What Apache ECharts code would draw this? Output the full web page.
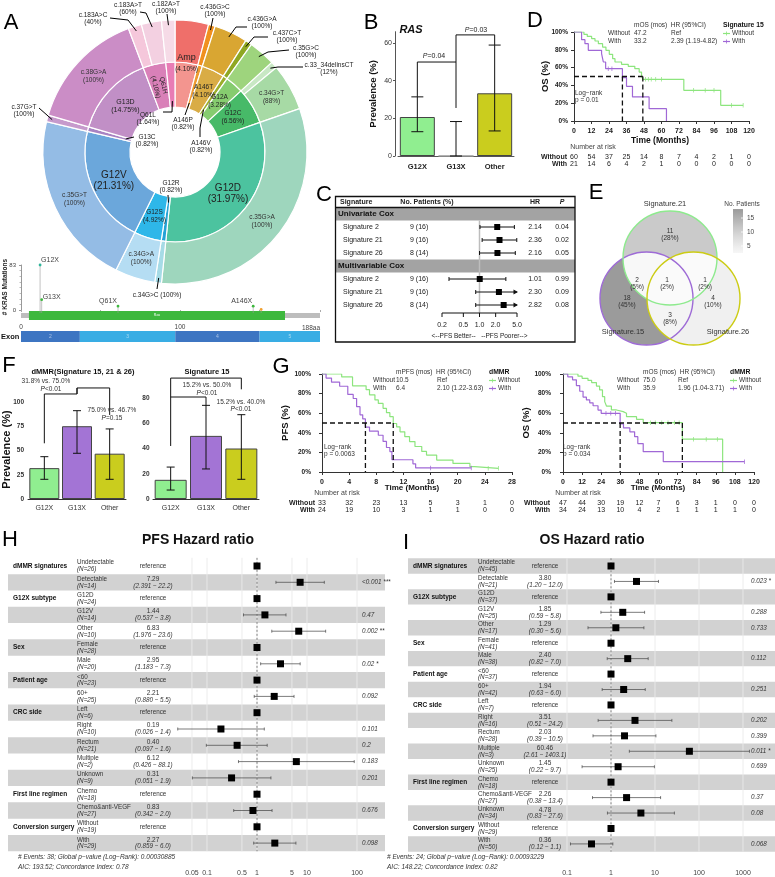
<!DOCTYPE html>
<html><head><meta charset="utf-8"><title>KRAS figure</title>
<script src="https://cdn.jsdelivr.net/npm/echarts@6/dist/echarts.min.js"></script>
<style>html,body{margin:0;padding:0;background:#fff;}#c{width:775px;height:877px;}</style>
</head><body><div id="c"></div>
<script>
// ================= DATA =================
// A: sunburst (inner ring = protein change, outer ring = nucleotide change)
const innerNames=['Amp','A146P','A146T','A146V','G12A','G12C','G12D','G12R','G12S','G12V','G13C','G13D','Q61H','Q61L'];
const innerCounts=[5,1,5,1,4,8,39,1,6,26,1,18,5,2];
const innerPct=['4.10%','0.82%','4.10%','0.82%','3.28%','6.56%','31.97%','0.82%','4.92%','21.31%','0.82%','14.75%','4.10%','1.64%'];
const outerNames=['Amp','c.436G>C','c.436G>A','c.437C>T','c.35G>C','c.33_34delinsCT','c.34G>T','c.35G>A','c.34G>C','c.34G>A','c.35G>T','c.37G>T','c.38G>A','c.183A>C','c.183A>T','c.182A>T'];
const outerParent=[0,1,2,3,4,5,5,6,7,8,9,10,11,12,12,13];
const outerCounts=[5,1,5,1,4,1,7,39,1,6,26,1,18,2,3,2];
const outerPct=['','100%','100%','100%','100%','12%','88%','100%','100%','100%','100%','100%','100%','40%','60%','100%'];
// A: lollipop
const lolliNames=['G12X','G13X','Q61X','A146X',''];
const lolliPos=[12,13,61,146,151];
const lolliCounts=[83,19,7,7,1];
const proteinLen=188;
const rasDomain=[5,166];
const exonNames=['2','3','4','5'];
const exonStart=[0,37,97,150];
const exonEnd=[37,97,150,188];
// B
const bCats=['G12X','G13X','Other'];
const bVal=[20.7,0,33.3];
const bLo=[12.9,0,13.3];
const bHi=[31.4,18.3,58.9];
// C
const cSections=['Univariate Cox','Multivariable Cox'];
const cSig=['Signature 2','Signature 21','Signature 26'];
const cN=[['9 (16)','9 (16)','8 (14)'],['9 (16)','9 (16)','8 (14)']];
const cHR=[[2.14,2.36,2.16],[1.01,2.30,2.82]];
const cLo=[[1.02,1.12,1.00],[0.27,0.85,0.85]];
const cHi=[[4.47,4.95,4.65],[3.10,6.20,9.30]];
const cP=[['0.04','0.02','0.05'],['0.99','0.09','0.08']];
const cTicks=[0.2,0.5,1.0,2.0,5.0];
// D: OS by Signature 15
const dWithout=[[0,100],[6.8,97.4],[9.1,95],[12.1,92.5],[14.4,89.9],[16.7,86.9],[19.6,83.1],[21.9,79.4],[24.2,74.9],[26.5,70],[28.1,66.3],[32.6,63.7],[37.2,61.4],[41.7,58.8],[44.7,55],[46.3,51.3],[47.2,46.8],[75.3,34.5],[100.6,17.6],[116,17.6]];
const dWith=[[0,100],[5.2,91.4],[7.5,86.9],[9.8,79.4],[18.9,75.6],[20.1,66.3],[21.7,58.8],[33.2,48.7],[36,39],[40.1,27],[51.5,13.9],[63.4,0]];
const dCensWithout=[49,51,53,56,60,82,90,96,108,116];
const dCensWith=[23.5,26];
const dMedian=[47.2,33.2];
const dHR=['Ref','2.39 (1.19-4.82)'];
const dRiskT=[0,12,24,36,48,60,72,84,96,108,120];
const dRiskWithout=[60,54,37,25,14,8,7,4,2,1,0];
const dRiskWith=[21,14,6,4,2,1,0,0,0,0,0];
// E: Venn
const vennCounts={'15':18,'21':11,'26':4,'15&21':2,'21&26':1,'15&26':3,'15&21&26':1};
const vennPct={'15':'45%','21':'28%','26':'10%','15&21':'5%','21&26':'2%','15&26':'8%','15&21&26':'2%'};
// F
const fCats=['G12X','G13X','Other'];
const fDmmrVal=[31.8,75.0,46.7];
const fDmmrLo=[20.3,47.1,20.3];
const fDmmrHi=[43.6,91.0,72.2];
const fSig15Val=[15.2,50.0,40.0];
const fSig15Lo=[7.1,23.8,15.6];
const fSig15Hi=[25.3,74.2,66.8];
// G: PFS and OS by dMMR
const gPfsWithout=[[0,100],[2.9,97],[4.5,87.9],[6.5,84],[7,78.8],[7.8,73.5],[8.3,70],[9,65],[9.5,60.5],[10,56.5],[10.5,49.5],[11,46],[11.5,41],[12.2,36],[12.9,31],[13.7,26],[14.7,21],[15.4,17.3],[16.9,12.2],[19.3,8.8],[21.8,5.4],[22.5,3.7],[26,3.7]];
const gPfsWith=[[0,100],[0.6,95.8],[1.4,91.7],[2.6,87.5],[3.8,79.2],[4.6,75],[5.1,66.7],[5.6,58.3],[6,54.2],[6.4,45.8],[7,41.7],[8.3,37.5],[9,31.2],[9.5,25],[10,20.8],[10.3,12.5],[13.4,8.3],[13.8,4.2],[22,4.2]];
const gPfsCensWithout=[24.5,26];
const gPfsCensWith=[16,22];
const gPfsMedian=[10.5,6.4];
const gPfsHR=['Ref','2.10 (1.22-3.63)'];
const gPfsRiskT=[0,4,8,12,16,20,24,28];
const gPfsRiskWithout=[33,32,23,13,5,3,1,0];
const gPfsRiskWith=[24,19,10,3,1,1,0,0];
const gOsWithout=[[0,100],[9.4,97.8],[12,95.6],[15.7,93.4],[18,91.2],[21,87.7],[23,83.7],[24.8,76.9],[26.2,71.8],[27.3,67.3],[30.4,63.3],[33.6,61.6],[37.8,59.9],[39.9,56.5],[46.2,53.7],[50.4,50.3],[75,33.5],[100.3,0]];
const gOsWith=[[0,100],[3,97.1],[6,94.1],[8.4,88.2],[10.5,82.4],[12.6,76.5],[14.7,73.5],[16.8,70.6],[18.9,67.6],[22,63.2],[24,59.9],[35.9,49],[38,45],[42,41],[45,36],[47,29],[50.4,20.7],[63,10.5],[114,10.5]];
const gOsCensWithout=[55,58,62,66,70,73,82,90,97];
const gOsCensWith=[27,30,33,114];
const gOsMedian=[75.0,35.9];
const gOsHR=['Ref','1.96 (1.04-3.71)'];
const gOsRiskT=[0,12,24,36,48,60,72,84,96,108,120];
const gOsRiskWithout=[47,44,30,19,12,7,6,3,1,0,0];
const gOsRiskWith=[34,24,13,10,4,2,1,1,1,1,0];
// H: PFS hazard ratios
const hVar=['dMMR signatures','','G12X subtype','','','Sex','','Patient age','','CRC side','','','','','First line regimen','','Conversion surgery',''];
const hLevel=['Undetectable','Detectable','G12D','G12V','Other','Female','Male','<60','60+','Left','Right','Rectum','Multiple','Unknown','Chemo','Chemo&anti-VEGF','Without','With'];
const hN=[26,14,24,14,10,28,20,23,25,6,10,21,2,9,18,27,19,29];
const hHR=[1,7.29,1,1.44,6.83,1,2.95,1,2.21,1,0.19,0.40,6.12,0.31,1,0.83,1,2.27];
const hLo=[null,2.391,null,0.537,1.976,null,1.183,null,0.880,null,0.026,0.097,0.426,0.051,null,0.342,null,0.859];
const hHi=[null,22.2,null,3.8,23.6,null,7.3,null,5.5,null,1.4,1.6,88.1,1.9,null,2.0,null,6.0];
const hP=['','<0.001 ***','','0.47','0.002 **','','0.02 *','','0.092','','0.101','0.2','0.183','0.201','','0.676','','0.098'];
const hTicks=[0.05,0.1,0.5,1,5,10,100];
// I: OS hazard ratios
const iVar=['dMMR signatures','','G12X subtype','','','Sex','','Patient age','','CRC side','','','','','First line regimen','','','Conversion surgery',''];
const iLevel=['Undetectable','Detectable','G12D','G12V','Other','Female','Male','<60','60+','Left','Right','Rectum','Multiple','Unknown','Chemo','Chemo&anti-VEGF','Unknown','Without','With'];
const iN=[45,21,37,25,17,41,38,37,42,7,16,28,3,25,18,27,34,29,50];
const iHR=[1,3.80,1,1.85,1.29,1,2.40,1,1.94,1,3.51,2.03,60.46,1.45,1,2.26,4.78,1,0.36];
const iLo=[null,1.20,null,0.59,0.30,null,0.82,null,0.63,null,0.51,0.39,2.61,0.22,null,0.38,0.83,null,0.12];
const iHi=[null,12.0,null,5.8,5.6,null,7.0,null,6.0,null,24.2,10.5,1403.1,9.7,null,13.4,27.6,null,1.1];
const iP=['','0.023 *','','0.288','0.733','','0.112','','0.251','','0.202','0.399','0.011 *','0.699','','0.37','0.08','','0.068'];
const iTicks=[0.1,1,10,100,1000];

// ================= STYLE =================
const FONT='"Liberation Sans", Arial, Helvetica, sans-serif';
const innerColors=['#F3958F','#EE9A2E','#D9AC45','#9CAE2C','#86CC6F','#47BA68','#4CC39F','#25A3D6','#2EB7E9','#6BA7DB','#A883C2','#C18FC6','#D980B8','#E87CB5'];
const outerColors=['#EF6F6A','#F0901F','#D9A632','#8FA722','#9ED47D','#C8E8C4','#A7DAA5','#9ED6BD','#A6DBE6','#B5DDF3','#94BCE5','#C69ACC','#CB8DC6','#F5C7DB','#F3D0E1','#F6DBE7'];
const COL_G='#8DE57E', COL_P='#A068D6';
const barColors=['#90EE90','#A374D5','#CACD1E'];

// ================= HELPERS =================
const chart=echarts.init(document.getElementById('c'));
const grids=[],xAxes=[],yAxes=[],series=[],G=[];
function st(o){const a=o.a||'center',v=o.v||'middle';const s={text:o.t,fill:o.c||'#222',fontSize:o.s||7,fontWeight:o.b?'bold':'normal',fontStyle:o.i?'italic':'normal',fontFamily:FONT,align:a,verticalAlign:v,textAlign:a,textVerticalAlign:v};if(o.rich)s.rich=o.rich;return s;}
function te(x,y,t,o){o=Object.assign({},o||{});o.t=t;return {type:'text',x:x,y:y,rotation:o.rot||0,silent:true,style:st(o)};}
function T(x,y,t,o){const e=te(x,y,t,o);e.z=50;G.push(e);}
function L(pts,o){o=o||{};G.push({type:'polyline',z:o.z||40,silent:true,shape:{points:pts},style:{stroke:o.c||'#000',lineWidth:o.w||1,fill:null,lineDash:o.d||null}});}
function addGrid(box,xa,ya){grids.push(Object.assign({containLabel:false,outerBoundsMode:'none',show:false},box));const gi=grids.length-1;xAxes.push(Object.assign({gridIndex:gi},xa));yAxes.push(Object.assign({gridIndex:gi},ya));return gi;}
function pRich(s){return {i:{fontStyle:'italic',fontSize:s,fontFamily:FONT,fill:'#222'}};}
const axLine={lineStyle:{color:'#333',width:1}};
function survAt(d,t){let s=d[0][1];for(const p of d){if(p[0]<=t)s=p[1];}return s;}

// ================= PANEL LETTERS =================
[['A',11,23],['B',371,23],['C',324,195],['D',535,21],['E',596,193],['F',9,366],['G',281,367],['H',10,540],['I',406,543]].forEach(l=>T(l[1],l[2],l[0],{s:22,c:'#000'}));

// ================= A: SUNBURST =================
const SB={cx:175,cy:152,r0:45,r1:90,r2:132};
const TOT=innerCounts.reduce((a,b)=>a+b,0);
function midAng(cnt,i){let s=0;for(let k=0;k<i;k++)s+=cnt[k];return (s+cnt[i]/2)/TOT*2*Math.PI;}
function polar(a,r){return [SB.cx+r*Math.sin(a),SB.cy-r*Math.cos(a)];}
const innerLabelSize={G12D:10,G12V:10,G13D:7,G12S:6.5,G12C:6.5,G12A:6.5,A146T:6.5,Q61H:6.5};
const outerLabelIn={'c.35G>A':1,'c.35G>T':1,'c.38G>A':1,'c.34G>A':1,'c.34G>T':1};
const sbData=innerNames.map((n,i)=>({name:n,value:innerCounts[i],itemStyle:{color:innerColors[i]},
  label:innerLabelSize[n]?{show:true,formatter:n+'\n('+innerPct[i]+')',fontSize:innerLabelSize[n],lineHeight:innerLabelSize[n]+1.5,rotate:n==='Q61H'?'radial':0,color:'#222',fontFamily:FONT}:{show:false},
  children:outerNames.map((m,j)=>({m:m,j:j})).filter(o=>outerParent[o.j]===i).map(o=>({name:o.m,value:outerCounts[o.j],itemStyle:{color:outerColors[o.j]},
    label:outerLabelIn[o.m]?{show:true,formatter:o.m+'\n('+outerPct[o.j]+')',fontSize:6.5,lineHeight:8,rotate:0,color:'#333',fontFamily:FONT}:{show:false}}))}));
series.push({type:'sunburst',center:[SB.cx,SB.cy],radius:[SB.r0,SB.r2],sort:null,startAngle:90,nodeClick:false,data:sbData,
  itemStyle:{borderColor:'#fff',borderWidth:1.2},label:{show:false},emphasis:{disabled:true},
  levels:[{},{r0:SB.r0,r:SB.r1},{r0:SB.r1,r:SB.r2}]});
(function(){const p=polar(midAng(innerCounts,0),SB.r1);T(p[0],p[1]-5,'Amp',{s:9,c:'#222'});T(p[0],p[1]+6,'(4.10%)',{s:6.5});})();
const outerLeaders=[
 {i:13,t:[93,15],e:[[110,18],[128,20]]},
 {i:14,t:[128,5],e:[[140,12],[146,13]]},
 {i:15,t:[166,4],e:[[167,14]]},
 {i:1,t:[215,7],e:[[213,18]]},
 {i:2,t:[262,19],e:[[247,27],[236,27]]},
 {i:3,t:[287,33],e:[[268,37],[254,37]]},
 {i:4,t:[306,48],e:[[289,50],[268,52]]},
 {i:5,t:[329,65],e:[[303,67],[278,67]]},
 {i:11,t:[24,107],e:[[39,108]]},
 {i:8,t:[157,295],e:[[157,289]],one:true}];
outerLeaders.forEach(o=>{const anc=polar(midAng(outerCounts,o.i),SB.r2-5);L(o.e.concat([anc]),{w:1});
  if(o.one)T(o.t[0],o.t[1],outerNames[o.i]+' ('+outerPct[o.i]+')',{s:6.5});
  else{T(o.t[0],o.t[1],outerNames[o.i],{s:6.5});T(o.t[0],o.t[1]+7.5,'('+outerPct[o.i]+')',{s:6.5});}});
const innerLeaders=[
 {i:13,t:[148,115],e:[[163,112],[172,112]]},
 {i:1,t:[183,120],e:[[185,115]]},
 {i:3,t:[201,143],e:[[200,137],[200,128]]},
 {i:10,t:[147,137],e:[[134,137]]},
 {i:7,t:[171,183],e:[[168,195]]}];
innerLeaders.forEach(o=>{const anc=polar(midAng(innerCounts,o.i),SB.r0+6);L(o.e.concat([anc]),{w:1});
  T(o.t[0],o.t[1],innerNames[o.i],{s:6.5});T(o.t[0],o.t[1]+7.5,'('+innerPct[o.i]+')',{s:6.5});});

// ================= A: LOLLIPOP =================
const gA=addGrid({left:21,top:265,width:299,height:45},
 {type:'value',min:0,max:proteinLen,interval:50,offset:10,axisLine:{show:false},axisTick:{show:true,length:2,lineStyle:{color:'#aaa'}},splitLine:{show:false},
  axisLabel:{fontSize:6.5,color:'#444',margin:4,fontFamily:FONT,formatter:v=>(v===0||v===100)?String(v):''}},
 {type:'value',min:0,max:83,interval:83,offset:3,axisLine:{show:true,lineStyle:{color:'#999'}},axisTick:{show:true,length:2,lineStyle:{color:'#999'}},
  minorTick:{show:true,splitNumber:8,length:1.5,lineStyle:{color:'#bbb'}},splitLine:{show:false},axisLabel:{fontSize:6,color:'#444',margin:2,fontFamily:FONT}});
series.push({type:'custom',xAxisIndex:gA,yAxisIndex:gA,clip:false,z:2,silent:true,data:[[0,0]],
 renderItem:(p,api)=>{const y0=api.coord([0,0])[1];const X=v=>api.coord([v,0])[0];const ch=[];
  ch.push({type:'rect',shape:{x:X(0),y:y0+3,width:X(proteinLen)-X(0),height:5},style:{fill:'#BDBDBD'}});
  ch.push({type:'rect',shape:{x:X(rasDomain[0]),y:y0+1,width:X(rasDomain[1])-X(rasDomain[0]),height:9},style:{fill:'#3DB83D'}});
  ch.push(te((X(rasDomain[0])+X(rasDomain[1]))/2,y0+5.5,'Ras',{s:3.5,c:'#fff'}));
  exonNames.forEach((n,i)=>{ch.push({type:'rect',shape:{x:X(exonStart[i]),y:y0+21,width:X(exonEnd[i])-X(exonStart[i]),height:11},style:{fill:i%2?'#39ADE4':'#3D75C2'}});
    ch.push(te((X(exonStart[i])+X(exonEnd[i]))/2,y0+26.5,n,{s:5,c:'rgba(255,255,255,0.55)'}));});
  return {type:'group',children:ch};}});
const lolliSide=['right','right','left','left',null];
const lolliColors=['#2FB59A','#3DB83D','#3DB83D','#3DB83D','#F0A030'];
series.push({type:'custom',xAxisIndex:gA,yAxisIndex:gA,clip:false,z:3,silent:true,data:lolliPos.map((v,i)=>[v,lolliCounts[i]]),
 renderItem:(p,api)=>{const i=p.dataIndex;const a=api.coord([api.value(0),0]),b=api.coord([api.value(0),api.value(1)]);
  const ch=[{type:'line',shape:{x1:a[0],y1:a[1]+3,x2:b[0],y2:b[1]},style:{stroke:'#9a9a9a',lineWidth:0.6}},{type:'circle',shape:{cx:b[0],cy:b[1],r:1.4},style:{fill:lolliColors[i]}}];
  if(lolliNames[i]){const r=lolliSide[i]==='right';ch.push(te(b[0]+(r?1:-1),b[1]-(i===1?3:5),lolliNames[i],{s:7,c:'#444',a:r?'left':'right'}));}
  return {type:'group',children:ch};}});
T(320,328,'188aa',{s:6.5,a:'right',c:'#444'});
T(1,337,'Exon',{s:7.5,b:1,a:'left',c:'#111'});
T(5,287,'# KRAS Mutations',{s:6.5,b:1,rot:Math.PI/2,c:'#222'});

// ================= generic bar helpers =================
function errSeries(gi,lo,hi,cap){series.push({type:'custom',xAxisIndex:gi,yAxisIndex:gi,clip:false,z:5,silent:true,data:lo.map((v,i)=>[i,v,hi[i]]),
 renderItem:(p,api)=>{const a=api.coord([api.value(0),api.value(1)]),b=api.coord([api.value(0),api.value(2)]);const s={stroke:'#111',lineWidth:1};
  return {type:'group',children:[{type:'line',shape:{x1:a[0],y1:a[1],x2:b[0],y2:b[1]},style:s},{type:'line',shape:{x1:a[0]-cap,y1:a[1],x2:a[0]+cap,y2:a[1]},style:s},{type:'line',shape:{x1:b[0]-cap,y1:b[1],x2:b[0]+cap,y2:b[1]},style:s}]};}});}
function bracketSeries(gi,list){series.push({type:'custom',xAxisIndex:gi,yAxisIndex:gi,clip:false,z:6,silent:true,data:list.map((b,i)=>[0,i]),
 renderItem:(p,api)=>({type:'polyline',shape:{points:list[p.dataIndex].map(q=>api.coord(q))},style:{stroke:'#111',lineWidth:1,fill:null}})});}

// ================= B =================
const gB=addGrid({left:398,top:31.7,width:116,height:124.3},
 {type:'category',data:bCats,axisLine:{lineStyle:{color:'#555'}},axisTick:{show:false},axisLabel:{interval:0,fontSize:7.5,fontWeight:'bold',color:'#222',margin:7,fontFamily:FONT}},
 {type:'value',min:0,max:66,interval:20,offset:3,name:'Prevalence (%)',nameLocation:'middle',nameGap:17,nameMoveOverlap:false,nameTextStyle:{fontSize:9.5,fontWeight:'bold',color:'#111',fontFamily:FONT},
  axisLine:{show:true,lineStyle:{color:'#555'}},axisTick:{show:true,length:2,lineStyle:{color:'#555'}},splitLine:{show:false},axisLabel:{fontSize:7,color:'#333',margin:3,showMaxLabel:false,fontFamily:FONT}});
series.push({type:'bar',xAxisIndex:gB,yAxisIndex:gB,barWidth:35,silent:true,z:2,data:bVal.map((v,i)=>({value:v,itemStyle:{color:i===1?'#bbb':barColors[i===0?0:2],borderColor:i===1?'#999':'#444',borderWidth:1}}))});
errSeries(gB,bLo,bHi,6);
bracketSeries(gB,[[[0,bHi[0]],[0,49.9],[1,49.9],[1,25.5]],[[1,49.9],[1,64.3],[2,64.3],[2,bHi[2]]]]);
T(434,56,'{i|P}=0.04',{s:7,rich:pRich(7)});
T(476,30,'{i|P}=0.03',{s:7,rich:pRich(7)});
T(411,30,'RAS',{s:11,b:1,i:1,c:'#111'});

// ================= C =================
const gC=addGrid({left:442,top:207.5,width:75,height:104},{type:'value',min:Math.log10(0.2),max:Math.log10(5),show:false},{type:'value',min:-0.5,max:7.5,inverse:true,show:false});
const cRows=[];cSections.forEach((s,si)=>{cRows.push({sec:s});cSig.forEach((g,k)=>cRows.push({sig:g,n:cN[si][k],hr:cHR[si][k],lo:cLo[si][k],hi:cHi[si][k],p:cP[si][k]}));});
G.push({type:'rect',z:45,silent:true,shape:{x:335.5,y:196.5,width:239.5,height:145.5},style:{fill:null,stroke:'#111',lineWidth:1.3}});
L([[335.5,207.5],[575,207.5]],{w:1.3,c:'#111'});
T(340,202,'Signature',{s:7,b:1,a:'left'});T(427,202,'No. Patients (%)',{s:7,b:1});T(535,202,'HR',{s:7,b:1});T(562,202,'P',{s:7,b:1,i:1});
series.push({type:'custom',xAxisIndex:gC,yAxisIndex:gC,clip:false,z:2,silent:true,data:cRows.map((r,k)=>[0,k]),
 renderItem:(p,api)=>{const r=cRows[p.dataIndex];const y=api.coord([0,api.value(1)])[1];
  if(r.sec)return {type:'group',children:[{type:'rect',shape:{x:336,y:y-6.5,width:239,height:13},style:{fill:'#A3A3A3'}},te(338,y,r.sec,{s:8,b:1,a:'left',c:'#111'})]};
  return {type:'group',children:[te(343,y,r.sig,{s:7,a:'left'}),te(410,y,r.n,{s:7,a:'left'}),te(535,y,r.hr.toFixed(2),{s:7}),te(562,y,r.p,{s:7})]};}});
series.push({type:'custom',xAxisIndex:gC,yAxisIndex:gC,clip:false,z:3,silent:true,data:[[0,0]],
 renderItem:(p,api)=>{const a=api.coord([0,0.5]);const cs=p.coordSys;return {type:'line',shape:{x1:a[0],y1:a[1],x2:a[0],y2:cs.y+cs.height+1.5},style:{stroke:'#BDBDBD',lineWidth:1.5}};}});
series.push({type:'custom',xAxisIndex:gC,yAxisIndex:gC,clip:false,z:4,silent:true,data:cRows.map((r,k)=>[r.hr?Math.log10(r.hr):0,k]),
 renderItem:(p,api)=>{const r=cRows[p.dataIndex];if(r.sec)return null;const k=api.value(1);const xmax=Math.log10(cTicks[cTicks.length-1]);
  const c=api.coord([api.value(0),k]),a=api.coord([Math.log10(r.lo),k]),b=api.coord([Math.min(Math.log10(r.hi),xmax),k]);const s={stroke:'#111',lineWidth:1};
  const ch=[{type:'line',shape:{x1:a[0],y1:a[1],x2:b[0],y2:b[1]},style:s},{type:'line',shape:{x1:a[0],y1:a[1]-2,x2:a[0],y2:a[1]+2},style:s}];
  if(r.hi>cTicks[cTicks.length-1])ch.push({type:'polygon',shape:{points:[[b[0]+1,b[1]],[b[0]-3.5,b[1]-2.5],[b[0]-3.5,b[1]+2.5]]},style:{fill:'#111'}});
  else ch.push({type:'line',shape:{x1:b[0],y1:b[1]-2,x2:b[0],y2:b[1]+2},style:s});
  ch.push({type:'rect',shape:{x:c[0]-3,y:c[1]-3,width:6,height:6},style:{fill:'#000'}});return {type:'group',children:ch};}});
series.push({type:'custom',xAxisIndex:gC,yAxisIndex:gC,clip:false,z:4,silent:true,data:cTicks.map(t=>[Math.log10(t),0]),
 renderItem:(p,api)=>{const cs=p.coordSys;const ya=cs.y+cs.height+1.5;const x=api.coord([api.value(0),0])[0];const s={stroke:'#111',lineWidth:1};
  const ch=[{type:'line',shape:{x1:x,y1:ya,x2:x,y2:ya+4},style:s},te(x,ya+12,cTicks[p.dataIndex].toFixed(1),{s:7})];
  if(p.dataIndex===0){const x2=api.coord([Math.log10(cTicks[cTicks.length-1]),0])[0];const x1=api.coord([0,0])[0];ch.push({type:'line',shape:{x1:x,y1:ya,x2:x2,y2:ya},style:s});ch.push(te(x1,ya+23,'<--PFS Better--   --PFS Poorer-->',{s:6.5}));}
  return {type:'group',children:ch};}});

// ================= KM helper =================
function km(cfg){
 const gi=addGrid({left:cfg.left,top:cfg.top,width:cfg.width,height:cfg.height},
  {type:'value',min:0,max:cfg.xmax,interval:cfg.xint,offset:cfg.xoff,axisLine:axLine,axisTick:{length:3,lineStyle:{color:'#333'}},splitLine:{show:false},axisLabel:{fontSize:7,fontWeight:'bold',color:'#222',margin:cfg.xmargin,fontFamily:FONT}},
  {type:'value',min:0,max:100,interval:20,offset:cfg.yoff,name:cfg.yname,nameLocation:'middle',nameGap:cfg.nameGap,nameRotate:90,nameMoveOverlap:false,nameTextStyle:{fontSize:9.5,fontWeight:'bold',color:'#111',fontFamily:FONT},
   axisLine:axLine,axisTick:{length:3,lineStyle:{color:'#333'}},splitLine:{show:false},axisLabel:{formatter:'{value}%',fontSize:6.5,fontWeight:'bold',color:'#222',margin:2,fontFamily:FONT}});
 const mMax=Math.max.apply(null,cfg.medians);const dash={color:'#111',width:1.3,type:[5,3]};
 series.push({type:'line',xAxisIndex:gi,yAxisIndex:gi,data:[[0,50],[mMax,50]],symbol:'none',lineStyle:dash,z:4,silent:true});
 cfg.medians.forEach(m=>series.push({type:'line',xAxisIndex:gi,yAxisIndex:gi,data:[[m,50],[m,0]],symbol:'none',lineStyle:dash,z:4,silent:true}));
 [[cfg.without,cfg.cWithout,COL_G],[cfg.with,cfg.cWith,COL_P]].forEach(q=>{
  series.push({type:'line',xAxisIndex:gi,yAxisIndex:gi,data:q[0],step:'end',symbol:'none',lineStyle:{color:q[2],width:1.2},z:3,silent:true});
  series.push({type:'scatter',xAxisIndex:gi,yAxisIndex:gi,data:q[1].map(t=>[t,survAt(q[0],t)]),symbol:'rect',symbolSize:[0.9,4.5],itemStyle:{color:q[2]},z:3,silent:true});});
 [[cfg.riskWithout,cfg.riskDy[0]],[cfg.riskWith,cfg.riskDy[1]]].forEach(q=>{
  series.push({type:'custom',xAxisIndex:gi,yAxisIndex:gi,clip:false,z:5,silent:true,data:cfg.riskT.map((t,i)=>[t,q[0][i]]),
   renderItem:(p,api)=>{const c=api.coord([api.value(0),0]);return te(c[0],c[1]+q[1],String(api.value(1)),{s:7,c:'#222'});}});});
 const bottom=cfg.top+cfg.height;
 T(cfg.riskLabelX,bottom+cfg.riskDy[0],'Without',{s:7,b:1,a:'right'});
 T(cfg.riskLabelX,bottom+cfg.riskDy[1],'With',{s:7,b:1,a:'right'});
 T(cfg.narX,bottom+cfg.riskDy[0]-10,'Number at risk',{s:7,c:'#444'});
 T(cfg.timeX,bottom+cfg.timeDy,'Time (Months)',{s:cfg.timeS,b:1,c:'#111'});
 const lg=cfg.lg;
 T(lg.hx,lg.y0,lg.head,{s:6.5,a:'left',c:'#333'});
 T(lg.gx,lg.y0,lg.group,{s:6.8,b:1,a:'left',c:'#111'});
 [['Without',cfg.medians[0],cfg.hr[0],COL_G],['With',cfg.medians[1],cfg.hr[1],COL_P]].forEach((r,k)=>{const y=lg.y0+8+8*k;
  T(lg.nx,y,r[0],{s:6.5,a:'left',c:'#333'});T(lg.mx,y,r[1].toFixed(1),{s:6.5,a:'left',c:'#333'});T(lg.rx,y,r[2],{s:6.5,a:'left',c:'#333'});
  L([[lg.gx,y+0.5],[lg.gx+7,y+0.5]],{c:r[3],w:1.2,z:45});L([[lg.gx+3.5,y-1.5],[lg.gx+3.5,y+2.5]],{c:r[3],w:0.8,z:45});
  T(lg.gx+9,y,r[0],{s:6.5,a:'left',c:'#333'});});
 T(cfg.lrX,cfg.lrY,'Log\u2212rank',{s:6.5,a:'left',c:'#333'});T(cfg.lrX,cfg.lrY+7,cfg.pText,{s:6.5,a:'left',c:'#333'});
 return gi;
}

// ================= D =================
km({left:574,top:32,width:175,height:89,xmax:120,xint:12,xoff:4,xmargin:3,yoff:4,yname:'OS (%)',nameGap:20,
 without:dWithout,with:dWith,cWithout:dCensWithout,cWith:dCensWith,medians:dMedian,hr:dHR,
 riskT:dRiskT,riskWithout:dRiskWithout,riskWith:dRiskWith,riskDy:[36,43],riskLabelX:567,narX:593,timeX:660,timeDy:20,timeS:8.5,
 lg:{head:'mOS (mos)  HR (95%CI)',group:'Signature 15',hx:634,gx:723,y0:25,nx:608,mx:634,rx:671},lrX:575,lrY:93,pText:'p = 0.01'});

// ================= E: VENN =================
const vC={'15':{x:646.5,y:298.5,r:46.5},'21':{x:670,y:258,r:47},'26':{x:693.5,y:298.5,r:46.5}};
const vStroke={'15':'#9E6BD6','21':'#8EEA8E','26':'#CCCC14'};
function grayFor(c){const g=Math.round(250-95*Math.pow(Math.max(0,(c-1)/17),1.3));return 'rgb('+g+','+g+','+g+')';}
function inside(p,c){return (p[0]-c.x)*(p[0]-c.x)+(p[1]-c.y)*(p[1]-c.y)<=c.r*c.r+1e-6;}
function interPoly(keys){const cs=keys.map(k=>vC[k]);let pts=[];cs.forEach((c,i)=>{for(let k=0;k<720;k++){const t=k/720*2*Math.PI;const p=[c.x+c.r*Math.cos(t),c.y+c.r*Math.sin(t)];if(cs.every((d,j)=>j===i||inside(p,d)))pts.push(p);}});
 const mx=pts.reduce((s,p)=>s+p[0],0)/pts.length,my=pts.reduce((s,p)=>s+p[1],0)/pts.length;pts.sort((a,b)=>Math.atan2(a[1]-my,a[0]-mx)-Math.atan2(b[1]-my,b[0]-mx));return pts;}
['15','21','26'].forEach(k=>G.push({type:'circle',z:1,silent:true,shape:{cx:vC[k].x,cy:vC[k].y,r:vC[k].r},style:{fill:grayFor(vennCounts[k])}}));
['15&21','21&26','15&26','15&21&26'].forEach((k,i)=>G.push({type:'polygon',z:2+(i===3?1:0),silent:true,shape:{points:interPoly(k.split('&'))},style:{fill:grayFor(vennCounts[k])}}));
['15','21','26'].forEach(k=>G.push({type:'circle',z:4,silent:true,shape:{cx:vC[k].x,cy:vC[k].y,r:vC[k].r},style:{fill:null,stroke:vStroke[k],lineWidth:1.4}}));
const vLab={'21':[670,231],'15&21':[637,280],'15&21&26':[667,280],'21&26':[705,280],'15':[627,298],'26':[713,298],'15&26':[670,315]};
Object.keys(vLab).forEach(k=>{T(vLab[k][0],vLab[k][1],String(vennCounts[k]),{s:6.5,c:'#333'});T(vLab[k][0],vLab[k][1]+7,'('+vennPct[k]+')',{s:6.5,c:'#333'});});
T(665,204,'Signature.21',{s:7.5,c:'#333'});T(623,332,'Signature.15',{s:7.5,c:'#333'});T(728,332,'Signature.26',{s:7.5,c:'#333'});
T(742,204,'No. Patients',{s:6.5,c:'#444'});
(function(){const yv=v=>260-2.8*v;const stops=[];for(let k=0;k<=10;k++){const v=18.2-(18.2-2.5)*k/10;stops.push({offset:k/10,color:grayFor(v)});}
 G.push({type:'rect',z:5,silent:true,shape:{x:733,y:yv(18.2),width:10,height:yv(2.5)-yv(18.2)},style:{fill:{type:'linear',x:0,y:0,x2:0,y2:1,colorStops:stops}}});
 [15,10,5].forEach(v=>{T(747,yv(v),String(v),{s:6.5,a:'left',c:'#444'});L([[741,yv(v)],[743,yv(v)]],{c:'#fff',w:0.8,z:6});});})();

// ================= F =================
const gF1=addGrid({left:28,top:400,width:98,height:99},
 {type:'category',data:fCats,axisLine:{lineStyle:{color:'#333'}},axisTick:{show:false},axisLabel:{interval:0,fontSize:7,color:'#333',margin:6,fontFamily:FONT}},
 {type:'value',min:0,max:102,interval:25,offset:2,name:'Prevalence (%)',nameLocation:'middle',nameGap:14,nameMoveOverlap:false,nameTextStyle:{fontSize:11,fontWeight:'bold',color:'#111',fontFamily:FONT},
  axisLine:axLine,axisTick:{length:2,lineStyle:{color:'#333'}},splitLine:{show:false},axisLabel:{fontSize:6.5,fontWeight:'bold',color:'#333',margin:2,showMaxLabel:false,fontFamily:FONT}});
series.push({type:'bar',xAxisIndex:gF1,yAxisIndex:gF1,barWidth:30,silent:true,z:2,data:fDmmrVal.map((v,i)=>({value:v,itemStyle:{color:barColors[i],borderColor:'#444',borderWidth:1}}))});
errSeries(gF1,fDmmrLo,fDmmrHi,4);
bracketSeries(gF1,[[[0,57.4],[0,108.2],[1,108.2],[1,114.4]],[[1,108.2],[1,114.4],[2,114.4],[2,86.6]]]);
T(83,372,'dMMR(Signature 15, 21 & 26)',{s:7.5,b:1,c:'#111'});
T(46,381,'31.8% vs. 75.0%',{s:6.5,c:'#333'});T(51,389,'{i|P}<0.01',{s:6.5,c:'#333',rich:pRich(6.5)});
T(112,410,'75.0% vs. 46.7%',{s:6.5,c:'#333'});T(112,418,'{i|P}=0.15',{s:6.5,c:'#333',rich:pRich(6.5)});
const gF2=addGrid({left:153,top:395.5,width:106,height:103.5},
 {type:'category',data:fCats,axisLine:{lineStyle:{color:'#333'}},axisTick:{show:false},axisLabel:{interval:0,fontSize:7,color:'#333',margin:6,fontFamily:FONT}},
 {type:'value',min:0,max:82,interval:20,offset:1.5,axisLine:axLine,axisTick:{length:2,lineStyle:{color:'#333'}},splitLine:{show:false},axisLabel:{fontSize:6.5,fontWeight:'bold',color:'#333',margin:2,showMaxLabel:false,fontFamily:FONT}});
series.push({type:'bar',xAxisIndex:gF2,yAxisIndex:gF2,barWidth:32,silent:true,z:2,data:fSig15Val.map((v,i)=>({value:v,itemStyle:{color:barColors[i],borderColor:'#444',borderWidth:1}}))});
errSeries(gF2,fSig15Lo,fSig15Hi,4);
bracketSeries(gF2,[[[0,42],[0,95.8],[2,95.8],[2,86.9]],[[0,80.8],[1,80.8],[1,73.9]]]);
T(207,372,'Signature 15',{s:7.5,b:1,c:'#111'});
T(207,385,'15.2% vs. 50.0%',{s:6.5,c:'#333'});T(207,393,'{i|P}<0.01',{s:6.5,c:'#333',rich:pRich(6.5)});
T(241,402,'15.2% vs. 40.0%',{s:6.5,c:'#333'});T(241,409,'{i|P}<0.01',{s:6.5,c:'#333',rich:pRich(6.5)});

// ================= G =================
km({left:322,top:374,width:190,height:98,xmax:28,xint:4,xoff:5,xmargin:1.5,yoff:9,yname:'PFS (%)',nameGap:23,
 without:gPfsWithout,with:gPfsWith,cWithout:gPfsCensWithout,cWith:gPfsCensWith,medians:gPfsMedian,hr:gPfsHR,
 riskT:gPfsRiskT,riskWithout:gPfsRiskWithout,riskWith:gPfsRiskWith,riskDy:[31,38],riskLabelX:315,narX:337,timeX:412,timeDy:16,timeS:8,
 lg:{head:'mPFS (mos)  HR (95%CI)',group:'dMMR',hx:396,gx:489,y0:372,nx:373,mx:396,rx:437},lrX:324,lrY:447,pText:'p = 0.0063'});
km({left:563,top:374,width:191,height:98,xmax:120,xint:12,xoff:5,xmargin:1.5,yoff:10,yname:'OS (%)',nameGap:22,
 without:gOsWithout,with:gOsWith,cWithout:gOsCensWithout,cWith:gOsCensWith,medians:gOsMedian,hr:gOsHR,
 riskT:gOsRiskT,riskWithout:gOsRiskWithout,riskWith:gOsRiskWith,riskDy:[31,38],riskLabelX:550,narX:578,timeX:658,timeDy:16,timeS:8,
 lg:{head:'mOS (mos)  HR (95%CI)',group:'dMMR',hx:643,gx:730,y0:372,nx:617,mx:643,rx:678},lrX:563,lrY:447,pText:'p = 0.034'});

// ================= H / I forest =================
function forest(cfg){
 const n=cfg.level.length;
 const gi=addGrid({left:cfg.gx,top:cfg.rowTop-cfg.rowH/2,width:cfg.gw,height:n*cfg.rowH},
  {type:'value',min:cfg.d0,max:cfg.d1,show:false},{type:'value',min:-0.5,max:n-0.5,inverse:true,show:false});
 const base={type:'custom',xAxisIndex:gi,yAxisIndex:gi,clip:false,silent:true};
 series.push(Object.assign({},base,{z:1,data:cfg.level.map((_,i)=>[cfg.d0,i]),renderItem:(p,api)=>{const i=p.dataIndex;if(i%2!==cfg.parity)return null;const y=api.coord([cfg.d0,i])[1];
  return {type:'rect',shape:{x:cfg.bx0,y:y-cfg.rowH/2,width:cfg.bx1-cfg.bx0,height:cfg.rowH},style:{fill:'#D2D2D2'}};}}));
 series.push(Object.assign({},base,{z:2,data:cfg.ticks.map(t=>[Math.log10(t),0]),renderItem:(p,api)=>{const x=api.coord([api.value(0),0])[0];const cs=p.coordSys;
  return {type:'group',children:[{type:'line',shape:{x1:x,y1:cs.y,x2:x,y2:cs.y+cs.height},style:{stroke:'#EAEAEA',lineWidth:0.9}},te(x,cfg.tickY,String(cfg.ticks[p.dataIndex]),{s:7,c:'#444'})]};}}));
 series.push(Object.assign({},base,{z:3,data:[[0,0]],renderItem:(p,api)=>{const x=api.coord([0,0])[0];const cs=p.coordSys;
  return {type:'line',shape:{x1:x,y1:cs.y,x2:x,y2:cs.y+cs.height},style:{stroke:'#666',lineWidth:0.8,lineDash:[2,2]}};}}));
 series.push(Object.assign({},base,{z:4,data:cfg.hr.map((h,i)=>[Math.log10(h),i]),renderItem:(p,api)=>{const i=p.dataIndex;const c=api.coord([api.value(0),i]);const ch=[];
  if(cfg.lo[i]!=null){const a=api.coord([Math.log10(cfg.lo[i]),i]),b=api.coord([Math.log10(cfg.hi[i]),i]);const s={stroke:'#444',lineWidth:0.7};
   ch.push({type:'line',shape:{x1:a[0],y1:a[1],x2:b[0],y2:b[1]},style:s},{type:'line',shape:{x1:a[0],y1:a[1]-1.5,x2:a[0],y2:a[1]+1.5},style:s},{type:'line',shape:{x1:b[0],y1:b[1]-1.5,x2:b[0],y2:b[1]+1.5},style:s});}
  ch.push({type:'rect',shape:{x:c[0]-3.5,y:c[1]-3.5,width:7,height:7},style:{fill:'#000'}});return {type:'group',children:ch};}}));
 series.push(Object.assign({},base,{z:5,data:cfg.level.map((_,i)=>[cfg.d0,i]),renderItem:(p,api)=>{const i=p.dataIndex;const y=api.coord([cfg.d0,i])[1];const ch=[];
  if(cfg.vars[i])ch.push(te(cfg.cVar,y,cfg.vars[i],{s:6.5,b:1,a:'left',c:'#111'}));
  ch.push(te(cfg.cLev,y-3.3,cfg.level[i],{s:6.3,a:'left',c:'#333'}));
  ch.push(te(cfg.cLev,y+3.6,'(N='+cfg.N[i]+')',{s:6.3,i:1,a:'left',c:'#333'}));
  if(cfg.lo[i]==null)ch.push(te(cfg.cEst,y,'reference',{s:6.3,c:'#333'}));
  else{ch.push(te(cfg.cEst,y-3.3,cfg.hr[i].toFixed(2),{s:6.5,c:'#333'}));ch.push(te(cfg.cEst,y+3.6,'('+cfg.fmtLo(cfg.lo[i])+' \u2212 '+cfg.hi[i].toFixed(1)+')',{s:6.3,i:1,c:'#333'}));}
  if(cfg.p[i])ch.push(te(cfg.cP,y,cfg.p[i],{s:6.3,i:1,a:'left',c:'#333'}));
  return {type:'group',children:ch};}}));
 T(cfg.titleX,540,cfg.title,{s:14,b:1,c:'#111'});
 T(cfg.footX,857,cfg.foot1,{s:6.5,i:1,a:'left',c:'#333'});
 T(cfg.footX,867,cfg.foot2,{s:6.5,i:1,a:'left',c:'#333'});
}
forest({vars:hVar,level:hLevel,N:hN,hr:hHR,lo:hLo,hi:hHi,p:hP,ticks:hTicks,fmtLo:v=>v.toFixed(3),
 gx:177,gw:188,d0:-1.6,d1:2.16,rowTop:566,rowH:16.3,bx0:8,bx1:385,parity:1,cVar:13,cLev:77,cEst:153,cP:362,tickY:873,
 title:'PFS Hazard ratio',titleX:198,footX:18,foot1:'# Events: 38; Global p\u2212value (Log\u2212Rank): 0.00030885',foot2:'AIC: 193.52; Concordance Index: 0.78'});
forest({vars:iVar,level:iLevel,N:iN,hr:iHR,lo:iLo,hi:iHi,p:iP,ticks:iTicks,fmtLo:v=>v.toFixed(2),
 gx:562.6,gw:193.6,d0:-1.1,d1:3.3,rowTop:566,rowH:15.44,bx0:408,bx1:775,parity:0,cVar:413,cLev:478,cEst:545,cP:751,tickY:873,
 title:'OS Hazard ratio',titleX:592,footX:387,foot1:'# Events: 24; Global p\u2212value (Log\u2212Rank): 0.00093229',foot2:'AIC: 148.22; Concordance Index: 0.82'});

chart.setOption({animation:false,backgroundColor:'#fff',textStyle:{fontFamily:FONT},grid:grids,xAxis:xAxes,yAxis:yAxes,series:series,graphic:{elements:G}});
</script></body></html>
